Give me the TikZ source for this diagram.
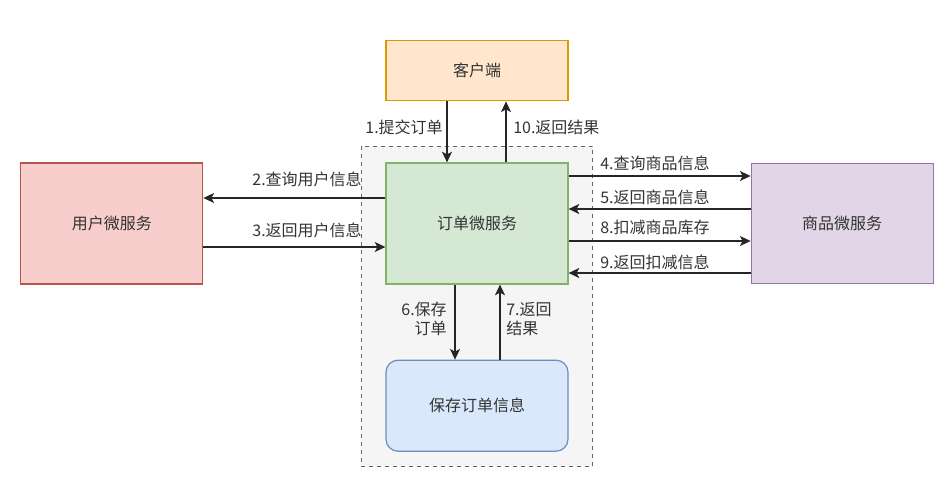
\documentclass[tikz,border=0pt]{standalone}
\usepackage{fontspec}
\setmainfont{Noto Sans CJK SC}
\usetikzlibrary{arrows.meta, positioning, calc, backgrounds}

\definecolor{orangeFill}{HTML}{FFE6CC}
\definecolor{orangeLine}{HTML}{D79B00}
\definecolor{greenFill}{HTML}{D5E8D4}
\definecolor{greenLine}{HTML}{82B366}
\definecolor{redFill}{HTML}{F8CECC}
\definecolor{redLine}{HTML}{B85450}
\definecolor{purpleFill}{HTML}{E1D5E7}
\definecolor{purpleLine}{HTML}{9673A6}
\definecolor{blueFill}{HTML}{DAE8FC}
\definecolor{blueLine}{HTML}{6C8EBF}
\definecolor{groupFill}{HTML}{F5F5F5}
\definecolor{groupLine}{HTML}{666666}
\definecolor{txt}{HTML}{333333}

\begin{document}
\begin{tikzpicture}[
    x=0.75pt, y=-0.75pt,
    box/.style={draw, line width=0.9pt, minimum width=136.5pt, text=txt,
                font=\fontsize{12}{14}\selectfont},
    lbl/.style={text=txt, inner sep=0pt, font=\fontsize{12}{14}\selectfont},
    arr/.style={draw=black!85, line width=0.9pt,
                -{Stealth[length=8pt, width=7.5pt, inset=2pt]}}
]
    \useasboundingbox (0,0) rectangle (950,489);

    \node[box, fill=greenFill, draw=greenLine, minimum height=90.75pt] (order) at (477,223.5) {订单微服务};
    \node[box, fill=orangeFill, draw=orangeLine, minimum height=45pt, above=45.75pt of order] (client) {客户端};
    \node[box, fill=redFill, draw=redLine, minimum height=90.75pt, left=136.5pt of order] (user) {用户微服务};
    \node[box, fill=purpleFill, draw=purpleLine, minimum height=90pt, right=136.5pt of order] (goods) {商品微服务};
    \node[box, fill=blueFill, draw=blueLine, minimum height=68.25pt, rounded corners=9pt, below=56.25pt of order] (save) {保存订单信息};

    \begin{scope}[on background layer]
        \draw[groupLine, fill=groupFill, line width=0.8pt, dash pattern=on 3pt off 3pt]
            ($(order.north west)+(-24,-16)$) rectangle ($(save.south east)+(24,15)$);
    \end{scope}

    \draw[arr] ($(client.south)+(-30,0)$) -- ($(order.north)+(-30,0)$);
    \draw[arr] ($(order.north)+(29,0)$) -- ($(client.south)+(29,0)$);
    \draw[arr] ($(order.west)+(0,-25.5)$) -- ($(user.east)+(0,-25.5)$);
    \draw[arr] ($(user.east)+(0,23.5)$) -- ($(order.west)+(0,23.5)$);
    \draw[arr] ($(order.east)+(0,-47.5)$) -- ($(goods.west)+(0,-47.5)$);
    \draw[arr] ($(goods.west)+(0,-14.5)$) -- ($(order.east)+(0,-14.5)$);
    \draw[arr] ($(order.east)+(0,17.5)$) -- ($(goods.west)+(0,17.5)$);
    \draw[arr] ($(goods.west)+(0,49.5)$) -- ($(order.east)+(0,49.5)$);
    \draw[arr] ($(order.south)+(-22,0)$) -- ($(save.north)+(-22,0)$);
    \draw[arr] ($(save.north)+(23,0)$) -- ($(order.south)+(23,0)$);

    \node[lbl, anchor=east] (l1) at (443,127) {1.提交订单};
    \node[lbl, anchor=west] (l10) at (513,127) {10.返回结果};
    \node[lbl, anchor=east] (l2) at (362,179) {2.查询用户信息};
    \node[lbl, anchor=east] (l3) at (362,230) {3.返回用户信息};
    \node[lbl, anchor=west] (l4) at (600,163) {4.查询商品信息};
    \node[lbl, anchor=west] (l5) at (600,197) {5.返回商品信息};
    \node[lbl, anchor=west] (l8) at (600,227) {8.扣减商品库存};
    \node[lbl, anchor=west] (l9) at (600,262) {9.返回扣减信息};
    \node[lbl, align=right, anchor=east] (l6) at (447,319) {6.保存\\订单};
    \node[lbl, align=left, anchor=west] (l7) at (506,319) {7.返回\\结果};
\end{tikzpicture}
\end{document}
